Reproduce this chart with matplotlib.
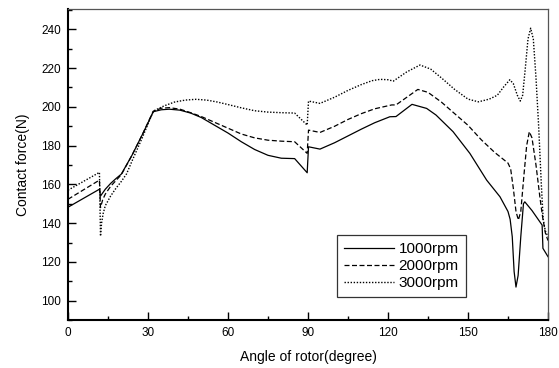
import matplotlib
matplotlib.use('Agg')
import matplotlib.pyplot as plt
from matplotlib.ticker import MultipleLocator

plt.rcParams['font.family'] = ['Liberation Sans', 'DejaVu Sans']

# 1000rpm (solid)
x_1000 = [0, 11.8, 12.2, 14, 16, 18, 20, 24, 28, 32, 35, 38, 42, 46, 50, 55, 60, 65, 70, 75, 80, 85,
          89.7, 90.2, 94.5, 100, 105, 110, 115, 120.7, 123, 129, 134.5, 138, 144.4, 150.7, 157, 162, 165,
          165.8, 166.6, 167.3, 168, 168.8, 169.8, 170.8, 171.3, 174, 177.8, 178.1, 180]
y_1000 = [148.2, 157.5, 154, 157.5, 160.5, 163, 165.3, 175, 186, 197.5, 198.5, 198.8, 198.3, 196.8, 194.5, 190.5,
          186.5, 182, 178, 175, 173.5, 173.3, 166, 179.4, 178.2, 181.5, 185, 188.5, 191.8, 194.9, 195, 201.3,
          199.2, 195.8, 187.2, 176, 162.2, 153.6, 146, 142, 133, 115, 107, 113, 133, 150, 151, 146.5, 139,
          127, 122.7]

# 2000rpm (dashed)
x_2000 = [0, 11.8, 12.2, 13, 14, 16, 18, 20, 24, 28, 32, 35, 38, 42, 46, 50, 55, 60, 65, 70, 75, 80, 85,
          89.7, 90.2, 94.5, 100, 105, 110, 115, 121.4, 123, 131.2, 135, 140, 145, 150, 155, 160, 162, 165,
          166, 167, 168, 168.9, 169.8, 171, 172, 173, 174, 175.5, 177, 178, 179, 180]
y_2000 = [152.3, 162.2, 148, 152, 155, 159, 162, 165, 175, 186, 197.8, 199.3, 199.6, 198.8, 197, 195, 192,
          189, 186, 184, 182.8, 182.3, 182, 176, 188, 186.8, 190, 193.5, 196.5, 199, 201, 201, 209, 207.5,
          202.5, 196.5, 190.5, 183, 176.5, 174.3, 171, 168, 158, 146, 141.6, 146, 165, 180, 187.2, 184,
          170, 153, 143, 135, 131]

# 3000rpm (dotted)
x_3000 = [0, 11.8, 12.2, 12.6, 13.2, 14, 16, 18, 20, 22, 24, 28, 32, 36, 40, 44, 48, 52, 56, 60, 65, 70,
          75, 80, 85, 89.7, 90.2, 94.5, 100, 105, 110, 114, 117, 120, 122, 127, 132, 136, 140, 145, 150,
          153.9, 158, 161, 163.5, 165.7, 167, 168.5, 169.6, 170.5, 171.5, 172.5, 173.5, 174.5, 175.5, 176.5,
          177.5, 178.2, 179, 180]
y_3000 = [157, 166.2, 133.3, 140, 145, 149, 154, 158, 161.5, 165.5, 172, 184.5, 197.8, 200.5, 202.5, 203.5,
          203.9, 203.5, 202.5, 201.2, 199.5, 198, 197.3, 197, 196.8, 190.6, 203, 201.8, 205, 208.5, 211.5,
          213.5, 214.2, 214, 213.3, 218, 221.6, 219.5, 215, 209, 204, 202.6, 204, 206, 210.5, 214, 212, 206,
          203, 206, 220, 235, 240.6, 235, 215, 190, 160, 142, 136, 133]

fig = plt.figure(figsize=(5.59, 3.68), dpi=100)
ax = fig.add_axes([0.1216, 0.1304, 0.8587, 0.8451])

ax.plot(x_1000, y_1000, color='black', lw=0.9, label='1000rpm')
ax.plot(x_2000, y_2000, color='black', lw=0.9, dashes=(4, 2), label='2000rpm')
ax.plot(x_3000, y_3000, color='black', lw=1.0, dashes=(1, 1.2), label='3000rpm')

ax.set_xlim(0, 180)
ax.set_ylim(90, 250.5)
ax.xaxis.set_major_locator(MultipleLocator(30))
ax.xaxis.set_minor_locator(MultipleLocator(15))
ax.yaxis.set_minor_locator(MultipleLocator(10))
ax.set_yticks([100, 120, 140, 160, 180, 200, 220, 240])
ax.tick_params(which='both', direction='in', top=False, right=False, labelsize=8.5, width=1.0)
ax.tick_params(which='major', length=6, pad=5)
ax.tick_params(which='minor', length=3)

ax.spines['left'].set_linewidth(1.5)
ax.spines['bottom'].set_linewidth(1.5)
ax.spines['top'].set_color('#555555')
ax.spines['right'].set_color('#555555')
ax.spines['top'].set_linewidth(0.9)
ax.spines['right'].set_linewidth(0.9)

ax.set_xlabel('Angle of rotor(degree)', fontsize=10, labelpad=8)
ax.set_ylabel('Contact force(N)', fontsize=10, labelpad=8)

leg = ax.legend(loc='lower left', bbox_to_anchor=(0.56, 0.073), borderaxespad=0, fontsize=11,
                frameon=True, fancybox=False, edgecolor='black', handlelength=3.3,
                handletextpad=0.3, labelspacing=0.2, borderpad=0.45)
leg.get_frame().set_linewidth(0.9)

fig.savefig('out.png', dpi=100)
